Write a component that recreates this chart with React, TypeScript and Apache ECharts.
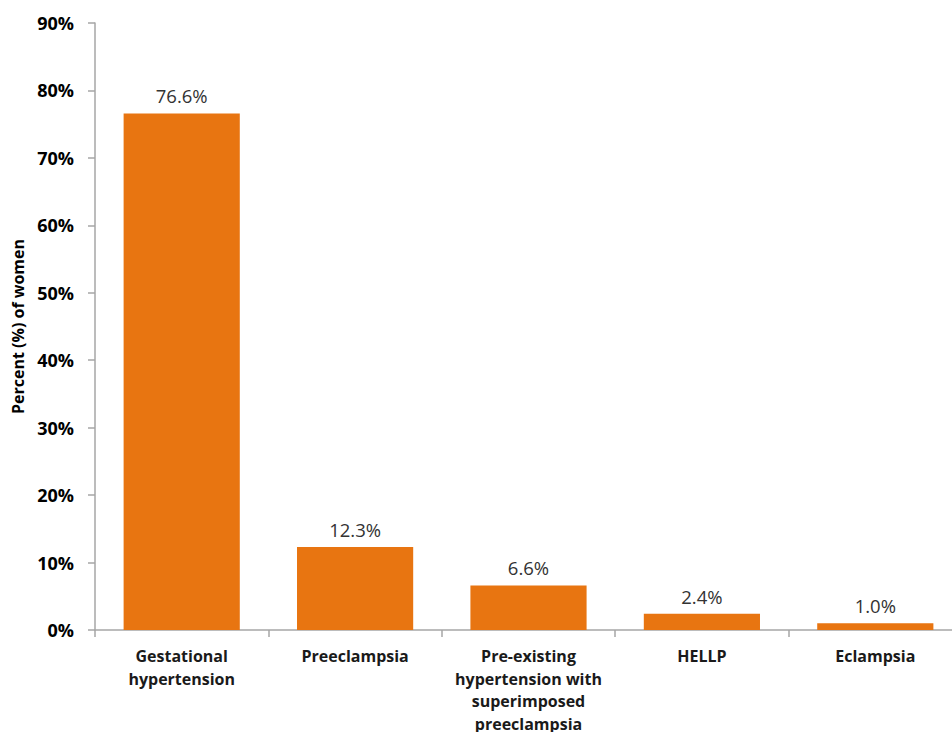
import React, { useEffect, useRef } from "react";
import * as echarts from "echarts";

const categories = [
  "Gestational\nhypertension",
  "Preeclampsia",
  "Pre-existing\nhypertension with\nsuperimposed\npreeclampsia",
  "HELLP",
  "Eclampsia",
];
const percentValues = [76.6, 12.3, 6.6, 2.4, 1.0];
const yAxisTitle = "Percent (%) of women";

const FONT = "'Open Sans', 'Liberation Sans', sans-serif";

export default function App() {
  const ref = useRef<HTMLDivElement>(null);

  useEffect(() => {
    if (!ref.current) return;
    const chart = echarts.init(ref.current, undefined, { renderer: "svg" });
    chart.setOption({
      animation: false,
      backgroundColor: "#ffffff",
      grid: {
        left: 95,
        right: -10,
        top: 23,
        bottom: 102,
        containLabel: false,
        outerBoundsMode: "none",
      },
      xAxis: {
        type: "category",
        data: categories,
        axisLine: { lineStyle: { color: "#a6a6a6", width: 1.5 } },
        axisTick: { show: true, length: 7, lineStyle: { color: "#a6a6a6", width: 1.5 } },
        axisLabel: {
          interval: 0,
          margin: 15,
          fontFamily: FONT,
          fontWeight: "bold",
          fontSize: 16,
          lineHeight: 22.5,
          color: "#1a1a1a",
        },
      },
      yAxis: {
        type: "value",
        min: 0,
        max: 90,
        interval: 10,
        name: yAxisTitle,
        nameLocation: "middle",
        nameGap: 69,
        nameTextStyle: {
          fontFamily: FONT,
          fontWeight: "bold",
          fontSize: 16,
          color: "#000000",
        },
        splitLine: { show: false },
        axisLine: { show: true, lineStyle: { color: "#a6a6a6", width: 1.5 } },
        axisTick: { show: true, length: 7, lineStyle: { color: "#a6a6a6", width: 1.5 } },
        axisLabel: {
          formatter: "{value}%",
          margin: 21,
          fontFamily: FONT,
          fontWeight: "bold",
          fontSize: 18,
          color: "#000000",
        },
      },
      series: [
        {
          type: "bar",
          data: percentValues,
          barWidth: "67%",
          itemStyle: { color: "#E87511" },
          label: {
            show: true,
            position: "top",
            distance: 8,
            formatter: (p: any) => `${Number(p.value).toFixed(1)}%`,
            fontFamily: FONT,
            fontSize: 18.5,
            color: "#333333",
          },
        },
      ],
    });
    return () => chart.dispose();
  }, []);

  return (
    <div
      ref={ref}
      style={{ position: "fixed", left: 0, top: 0, width: 952, height: 732 }}
    />
  );
}
